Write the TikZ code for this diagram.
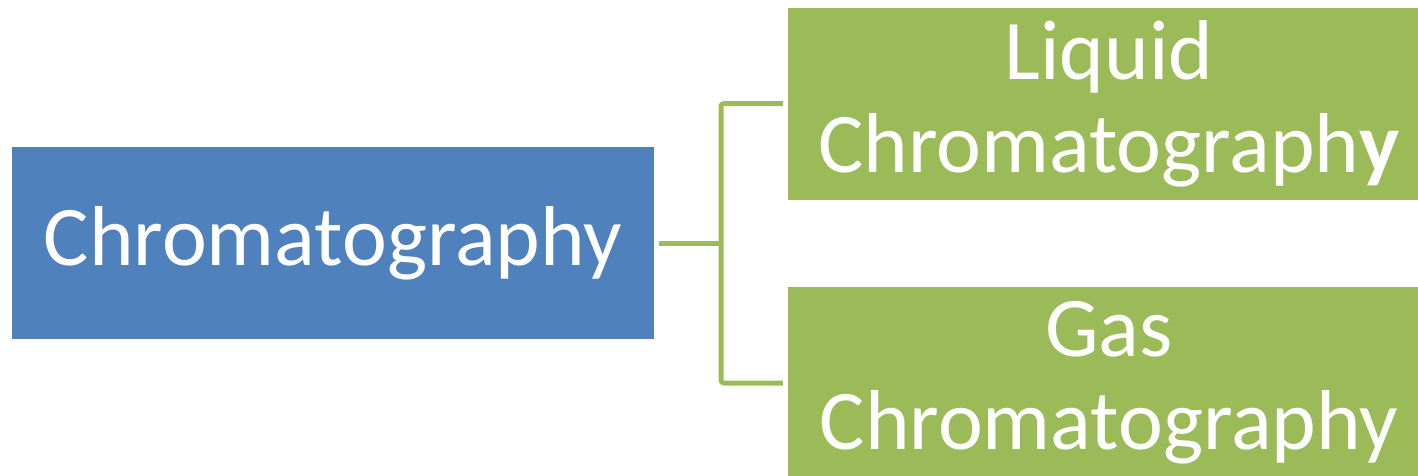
\documentclass[tikz,border=0pt]{standalone}
\usepackage{fontspec}
\setmainfont{Carlito}
\definecolor{rootblue}{HTML}{4F81BD}
\definecolor{leafgreen}{HTML}{9BBB59}
\tikzset{
  box/.style={rectangle, inner sep=0pt, minimum width=642pt, minimum height=192pt,
    text=white, align=center, font=\fontsize{85}{93}\selectfont},
  rootbox/.style={box, fill=rootblue},
  leafbox/.style={box, fill=leafgreen},
  conn/.style={draw=leafgreen, line width=5pt, rounded corners=3pt}
}
\begin{document}
\begin{tikzpicture}[x=1pt,y=-1pt]
  \useasboundingbox (0,0) rectangle (1418,475);
  \clip (0,0) rectangle (1418,475);
  % root and the two branches
  \node[rootbox] (root) at (333,243) {Chromatography};
  \node[leafbox] (lc) at (1109,103.5) {Liquid\\Chromatograph\textbf{y}};
  \node[leafbox] (gc) at (1109,383) {Gas\\Chromatography};
  % bracket connectors
  \coordinate (fork) at (721,243);
  \draw[conn] ([xshift=5pt]root.east) -- (fork);
  \draw[conn] (fork) |- ([xshift=-5pt]lc.west);
  \draw[conn] (fork) |- ([xshift=-5pt]gc.west);
\end{tikzpicture}
\end{document}
